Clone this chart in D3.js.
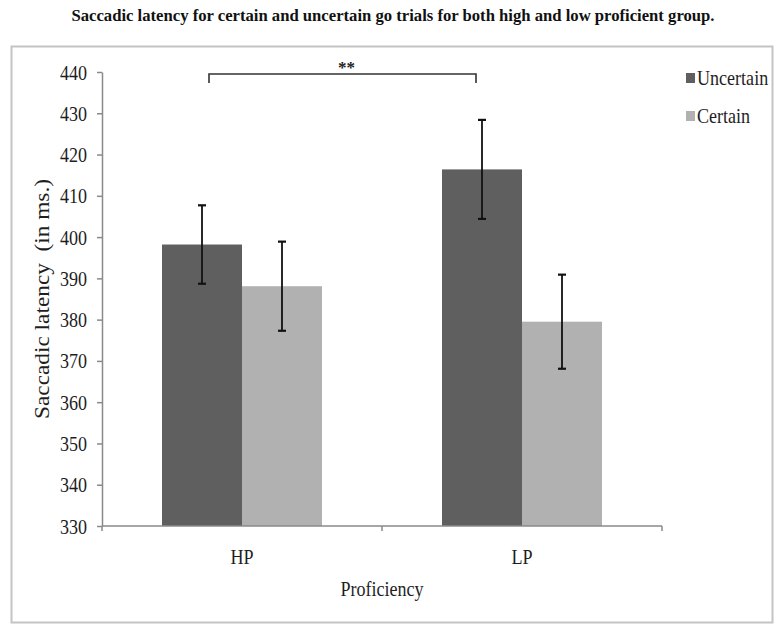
<!DOCTYPE html>
<html>
<head>
<meta charset="utf-8">
<script src="https://cdn.jsdelivr.net/npm/d3@7"></script>
<style>
  html, body { margin: 0; padding: 0; background: #fff; }
  svg { display: block; }
  svg text { font-family: "Liberation Serif", "Times New Roman", serif; }
</style>
</head>
<body>
<svg id="chart" width="783" height="626"></svg>
<script>
// ---- data ----
const categories = ["HP", "LP"];
const seriesNames = ["Uncertain", "Certain"];
const uncertainMeans = [398.2, 416.4];
const uncertainErrors = [9.5, 12.0];
const certainMeans = [388.1, 379.5];
const certainErrors = [10.8, 11.4];
const yTicks = [330, 340, 350, 360, 370, 380, 390, 400, 410, 420, 430, 440];
const titleText = "Saccadic latency for certain and uncertain go trials for both high and low proficient group.";
const yAxisTitle = "Saccadic latency  (in ms.)";
const xAxisTitle = "Proficiency";
const significance = { from: "HP", to: "LP", series: "Uncertain", level: 439.5, label: "**" };

const colors = { "Uncertain": "#5f5f5f", "Certain": "#b1b1b1" };
const FONT = "'Liberation Serif', 'Times New Roman', serif";
const HSCALE = 0.86; // reference glyphs are horizontally condensed

const rows = [];
categories.forEach((c, i) => {
  rows.push({ cat: c, series: "Uncertain", mean: uncertainMeans[i], err: uncertainErrors[i] });
  rows.push({ cat: c, series: "Certain", mean: certainMeans[i], err: certainErrors[i] });
});

const svg = d3.select("#chart");

// condensed text helper
function ctext(parent, x, yy, str, size, anchor, extra) {
  const t = parent.append("text")
    .attr("transform", `translate(${x},${yy}) scale(${HSCALE},1)`)
    .attr("text-anchor", anchor || "start")
    .style("font-family", FONT)
    .attr("font-size", size)
    .attr("fill", "#1e1e1e")
    .text(str);
  if (extra) extra(t);
  return t;
}

// frame
svg.append("rect")
  .attr("x", 11.5).attr("y", 46.5).attr("width", 761).attr("height", 576)
  .attr("fill", "none").attr("stroke", "#c4c4c4").attr("stroke-width", 2);

// title
svg.append("text")
  .attr("x", 393).attr("y", 21)
  .attr("text-anchor", "middle")
  .attr("font-weight", "bold")
  .attr("font-size", 16)
  .style("font-family", FONT)
  .attr("textLength", 643)
  .attr("lengthAdjust", "spacingAndGlyphs")
  .attr("fill", "#111")
  .text(titleText);

const pLeft = 102, pRight = 662, pTop = 72, pBottom = 526;

const x0 = d3.scaleBand().domain(categories).range([pLeft, pRight])
  .paddingInner(120 / 280).paddingOuter(60 / 280);
const x1 = d3.scaleBand().domain(seriesNames).range([0, x0.bandwidth()]);
const y = d3.scaleLinear().domain([330, 440]).range([pBottom, pTop]);

// bars
svg.append("g").selectAll("rect").data(rows).join("rect")
  .attr("x", d => x0(d.cat) + x1(d.series))
  .attr("y", d => y(d.mean))
  .attr("width", x1.bandwidth())
  .attr("height", d => y(330) - y(d.mean))
  .attr("fill", d => colors[d.series]);

// error bars
const eb = svg.append("g").attr("stroke", "#111").attr("stroke-width", 1.8);
rows.forEach(d => {
  const cx = x0(d.cat) + x1(d.series) + x1.bandwidth() / 2;
  eb.append("line").attr("x1", cx).attr("x2", cx)
    .attr("y1", y(d.mean + d.err)).attr("y2", y(d.mean - d.err));
  [d.mean + d.err, d.mean - d.err].forEach(v => {
    eb.append("line").attr("x1", cx - 4).attr("x2", cx + 4)
      .attr("y1", y(v)).attr("y2", y(v)).attr("stroke-width", 2.2);
  });
});

// y axis
const yAxis = svg.append("g")
  .attr("transform", `translate(${pLeft},0)`)
  .call(d3.axisLeft(y).tickValues(yTicks).tickSize(5).tickSizeOuter(0).tickFormat(d3.format("d")));
yAxis.select(".domain").attr("stroke", "#8a8a8a").attr("stroke-width", 1.5);
yAxis.selectAll(".tick line").attr("stroke", "#8a8a8a").attr("stroke-width", 1.5);
yAxis.selectAll(".tick text").remove();
yAxis.selectAll(".tick").each(function (d) {
  ctext(d3.select(this), -15, 7, d3.format("d")(d), 21, "end");
});

// x axis line and category-boundary ticks
const xg = svg.append("g");
xg.append("line").attr("x1", pLeft).attr("x2", pRight).attr("y1", pBottom).attr("y2", pBottom)
  .attr("stroke", "#8a8a8a").attr("stroke-width", 1.5);
d3.range(categories.length + 1).forEach(i => {
  const bx = x0.range()[0] + i * x0.step();
  xg.append("line").attr("x1", bx).attr("x2", bx).attr("y1", pBottom).attr("y2", pBottom + 5)
    .attr("stroke", "#8a8a8a").attr("stroke-width", 1.5);
});
categories.forEach(c => {
  ctext(xg, x0(c) + x0.bandwidth() / 2, 564, c, 21, "middle");
});

// axis titles
ctext(svg, (pLeft + pRight) / 2, 596, xAxisTitle, 21, "middle");

svg.append("text")
  .attr("transform", `translate(49,${(pTop + pBottom) / 2}) rotate(-90)`)
  .attr("text-anchor", "middle")
  .style("font-family", FONT)
  .attr("font-size", 21).attr("fill", "#1e1e1e")
  .attr("textLength", 240)
  .attr("lengthAdjust", "spacingAndGlyphs")
  .style("white-space", "pre")
  .text(yAxisTitle);

// significance bracket
const bxL = x0(significance.from) + x1(significance.series) + x1.bandwidth() / 2 + 7;
const bxR = x0(significance.to) + x1(significance.series) + x1.bandwidth() / 2 - 6;
const by = y(significance.level);
svg.append("path")
  .attr("d", `M${bxL},${by + 9}V${by}H${bxR}V${by + 9}`)
  .attr("fill", "none").attr("stroke", "#333").attr("stroke-width", 1.6);
svg.append("text")
  .attr("x", (bxL + bxR) / 2 + 4).attr("y", by - 1)
  .attr("text-anchor", "middle").attr("font-size", 17).attr("font-weight", "bold")
  .style("font-family", FONT)
  .attr("fill", "#222")
  .text(significance.label);

// legend
const lg = svg.append("g");
seriesNames.forEach((s, i) => {
  const ly = 78 + i * 38;
  lg.append("rect").attr("x", 686).attr("y", ly - 5).attr("width", 9).attr("height", 10)
    .attr("fill", colors[s]);
  ctext(lg, 697, ly + 7, s, 21, "start");
});
</script>
</body>
</html>
